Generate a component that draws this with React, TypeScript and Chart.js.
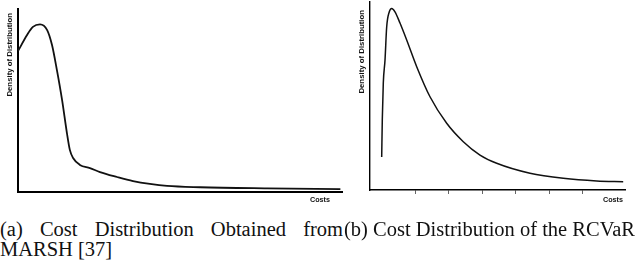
import React, { useEffect, useRef } from "react";
import { Chart, registerables } from "chart.js";

Chart.register(...registerables);

// ---- Data ----
// (a) Cost distribution obtained from MARSH
const costsA = [0, 2.8, 4.6, 6.8, 9.0, 10.5, 12.0, 13.6, 15.1, 16.0, 17.0, 19.1, 22.2, 25.3, 30.6, 35.5, 40.7, 46.0, 56.2, 76.9, 99.5];
const densityA = [77.0, 85.8, 90.2, 91.6, 88.5, 80.3, 66.7, 50.3, 32.2, 23.0, 18.6, 14.8, 13.1, 10.9, 8.2, 6.0, 4.4, 3.3, 2.6, 2.0, 1.6];

// (b) Cost distribution of the RCVaR
const costsB = [-0.09, 0.09, 0.39, 0.9, 1.4, 2.18, 2.9, 3.88, 5.37, 7.37, 10.36, 14.33, 19.31, 24.27, 29.25, 34.24, 44.18, 54.12, 64.09, 72.0];
const densityB = [17.6, 37.2, 56.9, 69.1, 86.7, 94.8, 96.6, 94.8, 88.8, 79.8, 65.6, 49.6, 35.5, 25.7, 18.6, 14.2, 8.9, 6.2, 4.8, 4.4];

const yTitle = "Density of Distribution";
const xTitle = "Costs";
const captionA1 = "(a) Cost Distribution Obtained from";
const captionA2 = "MARSH [37]";
const captionB = "(b) Cost Distribution of the RCVaR";

const axisText = {
  id: "axisText",
  afterDraw(chart: any, _args: any, opts: any) {
    const { ctx, chartArea } = chart;
    ctx.save();
    ctx.fillStyle = "#111";
    ctx.font = `bold ${opts.ySize}px "Liberation Sans", Arial, sans-serif`;
    ctx.translate(chartArea.left + opts.yDx, chartArea.top + opts.yDy);
    ctx.rotate(-Math.PI / 2);
    ctx.textAlign = "right";
    ctx.textBaseline = "middle";
    ctx.fillText(opts.yText, 0, 0);
    ctx.restore();
    ctx.save();
    ctx.fillStyle = "#111";
    ctx.font = `bold ${opts.xSize}px "Liberation Sans", Arial, sans-serif`;
    ctx.textAlign = "right";
    ctx.textBaseline = "middle";
    ctx.fillText(opts.xText, chartArea.right + opts.xDx, chartArea.bottom + opts.xDy);
    ctx.restore();
  },
};

function makeConfig(
  xs: number[],
  ys: number[],
  p: {
    xmin: number; xmax: number; padTop: number; padRight: number; yWidth: number; xHeight: number;
    border: number; lineW: number; ticks: boolean; yDx: number; yDy: number; xDx: number; xDy: number;
  }
): any {
  return {
    type: "line",
    data: {
      datasets: [
        {
          data: xs.map((x, i) => ({ x, y: ys[i] })),
          borderColor: "#111",
          borderWidth: p.lineW,
          pointRadius: 0,
          cubicInterpolationMode: "monotone",
          fill: false,
        },
      ],
    },
    options: {
      animation: false,
      responsive: false,
      events: [],
      layout: { padding: { top: p.padTop, right: p.padRight, left: 0, bottom: 0 } },
      plugins: {
        legend: { display: false },
        tooltip: { enabled: false },
        axisText: {
          yText: yTitle, xText: xTitle, ySize: 7.8, xSize: 7.2,
          yDx: p.yDx, yDy: p.yDy, xDx: p.xDx, xDy: p.xDy,
        },
      },
      scales: {
        x: {
          type: "linear",
          min: p.xmin,
          max: p.xmax,
          ticks: { display: false, stepSize: 10 },
          afterBuildTicks: (s: any) => {
            s.ticks = s.ticks.filter((t: any) => Math.abs(t.value - Math.round(t.value / 10) * 10) < 1e-6);
          },
          grid: {
            display: p.ticks,
            drawOnChartArea: false,
            drawTicks: true,
            tickLength: 4,
            color: "#666",
            lineWidth: 1,
          },
          border: { display: true, color: "#000", width: p.border },
          afterFit: (s: any) => { s.height = p.xHeight; },
        },
        y: {
          type: "linear",
          min: 0,
          max: 100,
          ticks: { display: false },
          grid: { display: false },
          border: { display: true, color: "#000", width: p.border },
          afterFit: (s: any) => { s.width = p.yWidth; },
        },
      },
    },
    plugins: [axisText],
  };
}

export default function App() {
  const refA = useRef<HTMLCanvasElement | null>(null);
  const refB = useRef<HTMLCanvasElement | null>(null);

  useEffect(() => {
    const a = new Chart(
      refA.current as HTMLCanvasElement,
      makeConfig(costsA, densityA, {
        xmin: 0, xmax: 100, padTop: 9, padRight: 3, yWidth: 18, xHeight: 18,
        border: 2, lineW: 1.8, ticks: false, yDx: -8, yDy: 4, xDx: -12, xDy: 8,
      })
    );
    const b = new Chart(
      refB.current as HTMLCanvasElement,
      makeConfig(costsB, densityB, {
        xmin: -3.58, xmax: 72.54, padTop: 2, padRight: 15, yWidth: 30, xHeight: 20,
        border: 1.4, lineW: 1.5, ticks: true, yDx: -8, yDy: 8, xDx: -2, xDy: 10,
      })
    );
    return () => {
      a.destroy();
      b.destroy();
    };
  }, []);

  const serif = '"Liberation Serif", "Times New Roman", Times, serif';

  return (
    <div
      style={{
        position: "fixed",
        left: 0,
        top: 0,
        width: 640,
        height: 263,
        background: "#fff",
        overflow: "hidden",
      }}
    >
      <canvas ref={refA} width={345} height={210} style={{ position: "absolute", left: 0, top: 0 }} />
      <canvas ref={refB} width={300} height={210} style={{ position: "absolute", left: 340, top: 0 }} />
      <div
        style={{
          position: "absolute",
          left: 0,
          top: 220,
          width: 343,
          fontFamily: serif,
          fontSize: "20.5px",
          lineHeight: "19.5px",
          color: "#111",
        }}
      >
        <div style={{ textAlign: "justify", textAlignLast: "justify", whiteSpace: "nowrap" as any }}>
          {captionA1}
        </div>
        <div>{captionA2}</div>
      </div>
      <div
        style={{
          position: "absolute",
          left: 344,
          top: 220,
          fontFamily: serif,
          fontSize: "20.5px",
          lineHeight: "19.5px",
          color: "#111",
          whiteSpace: "nowrap",
        }}
      >
        {captionB}
      </div>
    </div>
  );
}
